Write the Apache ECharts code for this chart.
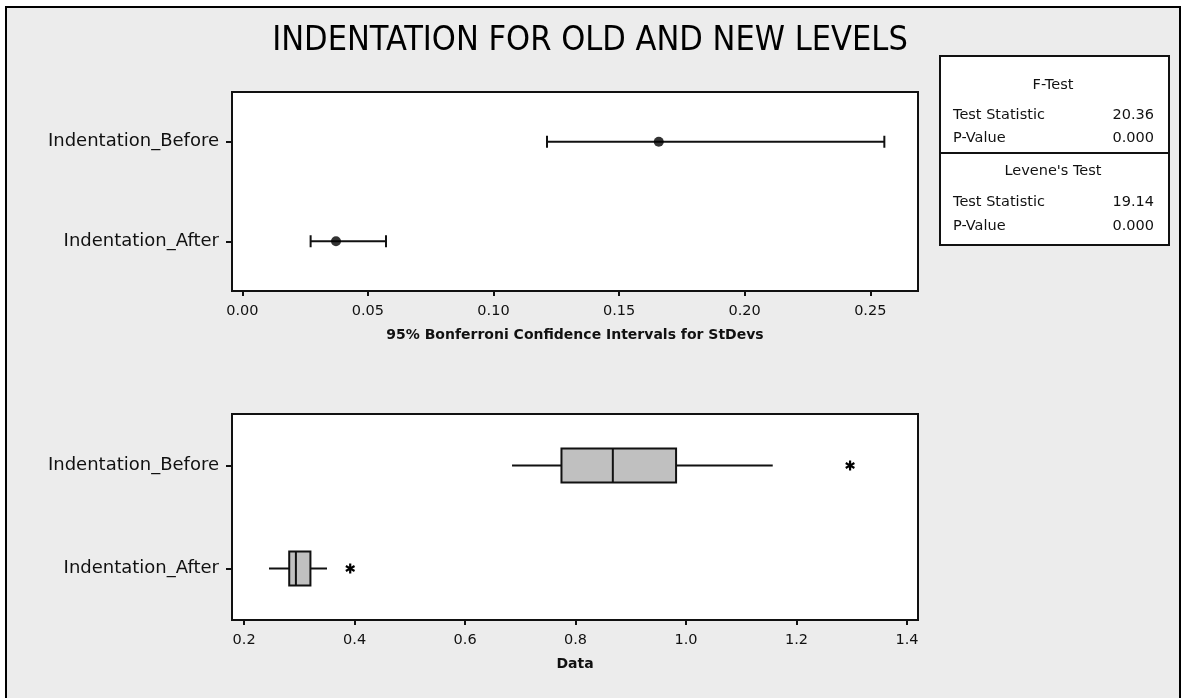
<!DOCTYPE html>
<html>
<head>
<meta charset="utf-8">
<script src="https://cdn.jsdelivr.net/npm/echarts@6/dist/echarts.min.js"></script>
<style>
html,body{margin:0;padding:0;background:#fff;}
#chart{width:1182px;height:698px;}
</style>
</head>
<body>
<div id="chart"></div>
<script>
// ---- data ----
const categories = ['Indentation_Before', 'Indentation_After'];
const ciLower = [0.1213, 0.0272];
const ciEstimate = [0.1658, 0.0373];
const ciUpper = [0.2556, 0.0572];
const boxMin = [0.685, 0.245];
const boxQ1 = [0.7745, 0.2816];
const boxMedian = [0.8675, 0.2937];
const boxQ3 = [0.982, 0.320];
const boxMax = [1.157, 0.350];
const outlierValues = [1.297, 0.392];
const outlierCats = ['Indentation_Before', 'Indentation_After'];
const ciTicks = [0, 0.05, 0.10, 0.15, 0.20, 0.25];
const dataTicks = [0.2, 0.4, 0.6, 0.8, 1.0, 1.2, 1.4];
const titleText = 'INDENTATION FOR OLD AND NEW LEVELS';
const ciAxisTitle = '95% Bonferroni Confidence Intervals for StDevs';
const dataAxisTitle = 'Data';
const testNames = ['F-Test', "Levene's Test"];
const testStats = ['20.36', '19.14'];
const testPValues = ['0.000', '0.000'];

// ---- chart ----
const chart = echarts.init(document.getElementById('chart'));
const FONT = '"DejaVu Sans", Verdana, sans-serif';
const INK = '#111';
const LW = 2;

const errData = categories.map((c, i) => [ciLower[i], ciUpper[i], i]);
const estData = categories.map((c, i) => [ciEstimate[i], i]);
const boxData = categories.map((c, i) => [boxMin[i], boxQ1[i], boxMedian[i], boxQ3[i], boxMax[i], i]);
const outData = outlierValues.map((v, i) => [v, categories.indexOf(outlierCats[i])]);

function axisCommon(min, max, ticks, digits, name, gap) {
  return {
    type: 'value', min: min, max: max,
    name: name, nameLocation: 'middle', nameGap: gap,
    nameTextStyle: {fontFamily: FONT, fontWeight: 'bold', fontSize: 14, color: INK},
    axisLine: {show: false, onZero: false},
    splitLine: {show: false},
    axisTick: {show: true, length: 5, customValues: ticks, lineStyle: {color: INK, width: LW}},
    axisLabel: {show: true, customValues: ticks, margin: 13, fontFamily: FONT, fontSize: 14.5, color: INK,
      formatter: v => Number(v).toFixed(digits)}
  };
}
function catAxis(gi) {
  return {
    type: 'category', gridIndex: gi, data: categories, inverse: true,
    axisLine: {show: false, onZero: false},
    axisTick: {show: true, alignWithLabel: true, length: 6, lineStyle: {color: INK, width: LW}},
    axisLabel: {fontFamily: FONT, fontSize: 18, color: INK, margin: 13},
    splitLine: {show: false}
  };
}

function renderErr(params, api) {
  const a = api.coord([api.value(0), api.value(2)]);
  const b = api.coord([api.value(1), api.value(2)]);
  const h = 6;
  const st = {stroke: INK, lineWidth: LW};
  return {type: 'group', children: [
    {type: 'line', shape: {x1: a[0], y1: a[1], x2: b[0], y2: b[1]}, style: st},
    {type: 'line', shape: {x1: a[0], y1: a[1] - h, x2: a[0], y2: a[1] + h}, style: st},
    {type: 'line', shape: {x1: b[0], y1: b[1] - h, x2: b[0], y2: b[1] + h}, style: st}
  ]};
}
function renderBox(params, api) {
  const c = api.value(5);
  const p = [0,1,2,3,4].map(k => api.coord([api.value(k), c]));
  const bh = api.size([0, 1])[1] * 0.33;
  const y = p[0][1];
  const st = {stroke: INK, lineWidth: LW};
  return {type: 'group', children: [
    {type: 'line', shape: {x1: p[0][0], y1: y, x2: p[1][0], y2: y}, style: st},
    {type: 'line', shape: {x1: p[3][0], y1: y, x2: p[4][0], y2: y}, style: st},
    {type: 'rect', shape: {x: p[1][0], y: y - bh / 2, width: p[3][0] - p[1][0], height: bh},
      style: {fill: '#c0c0c0', stroke: INK, lineWidth: LW}},
    {type: 'line', shape: {x1: p[2][0], y1: y - bh / 2, x2: p[2][0], y2: y + bh / 2}, style: st}
  ]};
}
function renderStar(params, api) {
  const p = api.coord([api.value(0), api.value(1)]);
  const r = 5;
  const st = {stroke: '#000', lineWidth: 2.2};
  const ch = [];
  for (let k = 0; k < 3; k++) {
    const ang = Math.PI / 2 + k * Math.PI / 3;
    ch.push({type: 'line', shape: {x1: p[0] - r * Math.cos(ang), y1: p[1] - r * Math.sin(ang),
      x2: p[0] + r * Math.cos(ang), y2: p[1] + r * Math.sin(ang)}, style: st});
  }
  return {type: 'group', children: ch};
}

const tableX = 940, tableY = 56, tableW = 229, tableH = 189, divY = 153;
const tStyle = {fontFamily: FONT, fontSize: 14.5, fill: INK};

const option = {
  animation: false,
  backgroundColor: '#ffffff',
  graphic: {elements: [
    {type: 'rect', z: -100, shape: {x: 6, y: 7, width: 1174, height: 700},
      style: {fill: '#ececec', stroke: '#000', lineWidth: 2}},
    {type: 'text', x: 590, y: 41, style: {text: titleText, align: 'center', verticalAlign: 'middle',
      fontFamily: '"Liberation Sans Narrow","DejaVu Sans Condensed","DejaVu Sans",sans-serif', fontSize: 34, fill: '#000'}},
    {type: 'rect', shape: {x: tableX, y: tableY, width: tableW, height: tableH},
      style: {fill: '#fff', stroke: INK, lineWidth: LW}},
    {type: 'line', shape: {x1: tableX, y1: divY, x2: tableX + tableW, y2: divY}, style: {stroke: INK, lineWidth: LW}},
    {type: 'text', x: 1053, y: 85, style: Object.assign({text: testNames[0], align: 'center', verticalAlign: 'middle'}, tStyle)},
    {type: 'text', x: 953, y: 115, style: Object.assign({text: 'Test Statistic', verticalAlign: 'middle'}, tStyle)},
    {type: 'text', x: 1154, y: 115, style: Object.assign({text: testStats[0], align: 'right', verticalAlign: 'middle'}, tStyle)},
    {type: 'text', x: 953, y: 138, style: Object.assign({text: 'P-Value', verticalAlign: 'middle'}, tStyle)},
    {type: 'text', x: 1154, y: 138, style: Object.assign({text: testPValues[0], align: 'right', verticalAlign: 'middle'}, tStyle)},
    {type: 'text', x: 1053, y: 171, style: Object.assign({text: testNames[1], align: 'center', verticalAlign: 'middle'}, tStyle)},
    {type: 'text', x: 953, y: 202, style: Object.assign({text: 'Test Statistic', verticalAlign: 'middle'}, tStyle)},
    {type: 'text', x: 1154, y: 202, style: Object.assign({text: testStats[1], align: 'right', verticalAlign: 'middle'}, tStyle)},
    {type: 'text', x: 953, y: 226, style: Object.assign({text: 'P-Value', verticalAlign: 'middle'}, tStyle)},
    {type: 'text', x: 1154, y: 226, style: Object.assign({text: testPValues[1], align: 'right', verticalAlign: 'middle'}, tStyle)}
  ]},
  grid: [
    {left: 232, top: 92, width: 686, height: 199, show: true, backgroundColor: '#fff', borderColor: INK, borderWidth: LW},
    {left: 232, top: 414, width: 686, height: 206, show: true, backgroundColor: '#fff', borderColor: INK, borderWidth: LW}
  ],
  xAxis: [
    Object.assign({gridIndex: 0}, axisCommon(-0.0041, 0.269, ciTicks, 2, ciAxisTitle, 37)),
    Object.assign({gridIndex: 1}, axisCommon(0.178, 1.42, dataTicks, 1, dataAxisTitle, 37))
  ],
  yAxis: [catAxis(0), catAxis(1)],
  series: [
    {type: 'custom', xAxisIndex: 0, yAxisIndex: 0, data: errData, encode: {x: [0, 1], y: 2}, renderItem: renderErr, silent: true},
    {type: 'scatter', xAxisIndex: 0, yAxisIndex: 0, data: estData, symbol: 'circle', symbolSize: 10,
      itemStyle: {color: '#000'}, silent: true},
    {type: 'custom', xAxisIndex: 1, yAxisIndex: 1, data: boxData, encode: {x: [0, 1, 2, 3, 4], y: 5}, renderItem: renderBox, silent: true},
    {type: 'custom', xAxisIndex: 1, yAxisIndex: 1, data: outData, encode: {x: 0, y: 1}, renderItem: renderStar, silent: true}
  ]
};
chart.setOption(option);
</script>
</body>
</html>
